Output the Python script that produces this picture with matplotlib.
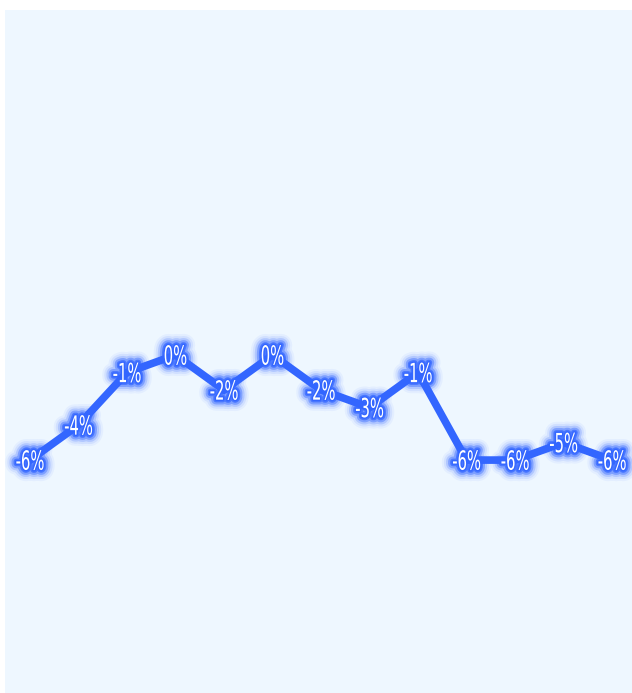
import numpy as np
import matplotlib
matplotlib.use("Agg")
import matplotlib.pyplot as plt
import matplotlib.patheffects as pe
from matplotlib.textpath import TextPath
from matplotlib.patches import PathPatch
from matplotlib.font_manager import FontProperties
from matplotlib.transforms import Affine2D

# donnees
categories = list(range(13))
valeurs = [-6, -4, -1, 0, -2, 0, -2, -3, -1, -6, -6, -5, -6]
etiquettes = [f"{v}%" for v in valeurs]

BLEU = "#3366ff"
FOND = "#eef7ff"

fig = plt.figure(figsize=(6.32, 6.93), dpi=100)
ax = fig.add_axes([5/632, 0, 627/632, 683/693])
ax.set_facecolor(FOND)
ax.set_xlim(-0.515, 12.41)
ax.set_ylim(-19.3, 19.7)
for s in ax.spines.values():
    s.set_visible(False)
ax.set_xticks([])
ax.set_yticks([])

ax.plot(categories, valeurs, color=BLEU, lw=5.5, solid_joinstyle="miter", zorder=2)

# etiquettes : police etroite simulee (texte compresse horizontalement)
prop = FontProperties(family="DejaVu Sans")
glow = [pe.Stroke(linewidth=w, foreground=BLEU, alpha=a, joinstyle="round", capstyle="round")
        for w, a in [(16, 0.06), (13, 0.1), (10, 0.2), (7, 0.4), (4, 0.7), (2, 0.95)]]
glow.append(pe.Normal())
px = fig.dpi / 72
for xi, v, lab in zip(categories, valeurs, etiquettes):
    tp = TextPath((0, 0), lab, size=19, prop=prop)
    bb = tp.get_extents()
    cx, cy = (bb.x0 + bb.x1) / 2, (bb.y0 + bb.y1) / 2
    X, Y = ax.transData.transform((xi, v))
    tr = Affine2D().translate(-cx, -cy).scale(0.56 * px, px).translate(X, Y)
    patch = PathPatch(tr.transform_path(tp), facecolor="white", edgecolor="none",
                      transform=None, zorder=3, path_effects=glow)
    fig.add_artist(patch)

fig.savefig("out.png", dpi=100)
